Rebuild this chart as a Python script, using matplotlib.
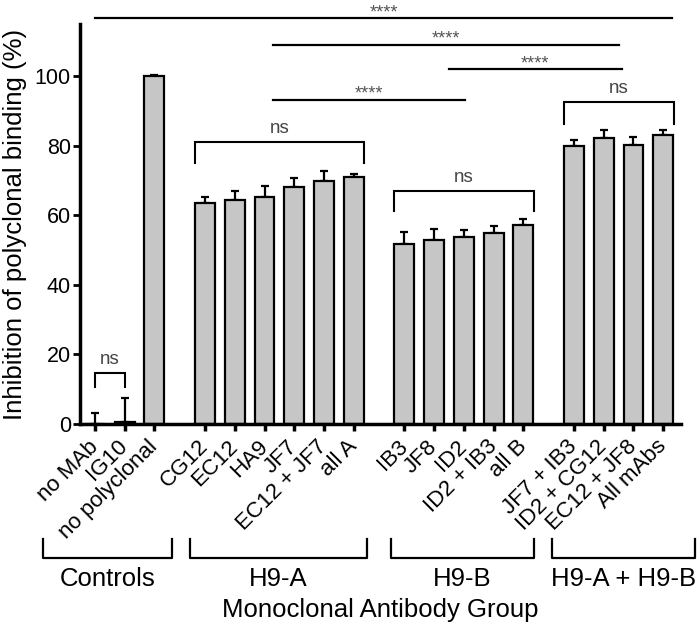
import matplotlib
matplotlib.use("Agg")
import matplotlib.pyplot as plt
import matplotlib.transforms as mtransforms
import numpy as np

plt.rcParams['font.family'] = ['Liberation Sans', 'DejaVu Sans']

# data
labels = ['no MAb', 'IG10', 'no polyclonal',
          'CG12', 'EC12', 'HA9', 'JF7', 'EC12 + JF7', 'all A',
          'IB3', 'JF8', 'ID2', 'ID2 + IB3', 'all B',
          'JF7 + IB3', 'ID2 + CG12', 'EC12 + JF8', 'All mAbs']
groups = [0, 0, 0, 1, 1, 1, 1, 1, 1, 2, 2, 2, 2, 2, 3, 3, 3, 3]
values = [0.0, 0.6, 100.0,
          63.6, 64.4, 65.2, 68.1, 70.0, 71.0,
          51.8, 52.9, 53.9, 55.0, 57.1,
          79.8, 82.1, 80.1, 83.2]
errors = [3.1, 6.8, 0.4,
          1.8, 2.7, 3.1, 2.7, 2.6, 1.0,
          3.4, 3.1, 1.9, 2.0, 1.9,
          1.9, 2.5, 2.5, 1.2]
group_names = ['Controls', 'H9-A', 'H9-B', 'H9-A + H9-B']

# x position of each bar: index plus an extra gap between groups
gap = 0.7
x = np.arange(len(values)) + gap * np.array(groups)

fig = plt.figure(figsize=(7, 6.24), dpi=100)
ax = fig.add_axes([0.1143, 0.3205, 0.8587, 0.6410])

ax.bar(x, values, width=0.67, color='#c6c6c6', edgecolor='black',
       linewidth=1.6, zorder=2)
ax.errorbar(x, values, yerr=[np.zeros(len(errors)), errors], fmt='none',
            ecolor='black', elinewidth=1.6, capsize=3, capthick=1.6, zorder=1)

ax.set_xlim(-0.5, x[-1] + 0.6)
ax.set_ylim(0, 115)
ax.set_yticks([0, 20, 40, 60, 80, 100])
ax.set_xticks(x)
ax.set_xticklabels(labels, rotation=45, ha='right', va='center',
                   rotation_mode='anchor', fontsize=16)
ax.tick_params(axis='y', labelsize=15.5, width=2, length=5, pad=1.5)
ax.tick_params(axis='x', width=2.5, length=5, pad=9)
for side in ['top', 'right']:
    ax.spines[side].set_visible(False)
ax.spines['left'].set_linewidth(2.5)
ax.spines['bottom'].set_linewidth(2.5)
ax.set_ylabel('Inhibition of polyclonal binding (%)', fontsize=18.5)
ax.yaxis.set_label_coords(-0.088, 0.5)

# "ns" brackets over groups
ns_brackets = [(0, 1, 14.8, 10.5), (3, 8, 81.2, 75.0),
               (9, 13, 67.1, 61.1), (14, 17, 92.7, 86.3)]
for i0, i1, top, leg in ns_brackets:
    if i0 == 0:
        xa, xb = x[i0], x[i1]
    else:
        xa, xb = x[i0] - 0.35, x[i1] + 0.35
    ax.plot([xa, xa, xb, xb], [leg, top, top, leg], color='black', lw=1.5,
            clip_on=False, solid_joinstyle='miter')
    ax.text((xa + xb) / 2, top + 1.2, 'ns', ha='center', va='bottom',
            fontsize=13.5, color='#444444')

# significance lines
sig_lines = [(0.0, 19.4, 116.7), (6.0, 17.6, 109.0),
             (11.9, 17.7, 102.0), (6.0, 12.45, 93.2)]
for xa, xb, yy in sig_lines:
    ax.plot([xa, xb], [yy, yy], color='black', lw=1.6, clip_on=False)
    ax.text((xa + xb) / 2, yy + 0.3, '****', ha='center', va='baseline',
            fontsize=13, color='#555555')

# group brackets below the tick labels
trans = mtransforms.blended_transform_factory(ax.transData, fig.transFigure)
group_spans = [(-1.75, 2.59), (3.19, 9.13), (9.95, 14.76), (15.37, 20.17)]
for (xa, xb), name in zip(group_spans, group_names):
    ax.plot([xa, xa, xb, xb], [0.1357, 0.1058, 0.1058, 0.1357], color='black',
            lw=1.6, transform=trans, clip_on=False)
    ax.text((xa + xb) / 2, 0.0721, name, ha='center', va='center',
            fontsize=18.5, transform=trans)

fig.text(0.5436, 0.0224, 'Monoclonal Antibody Group', ha='center',
         va='center', fontsize=18.5)

fig.savefig('out.png', dpi=100)
